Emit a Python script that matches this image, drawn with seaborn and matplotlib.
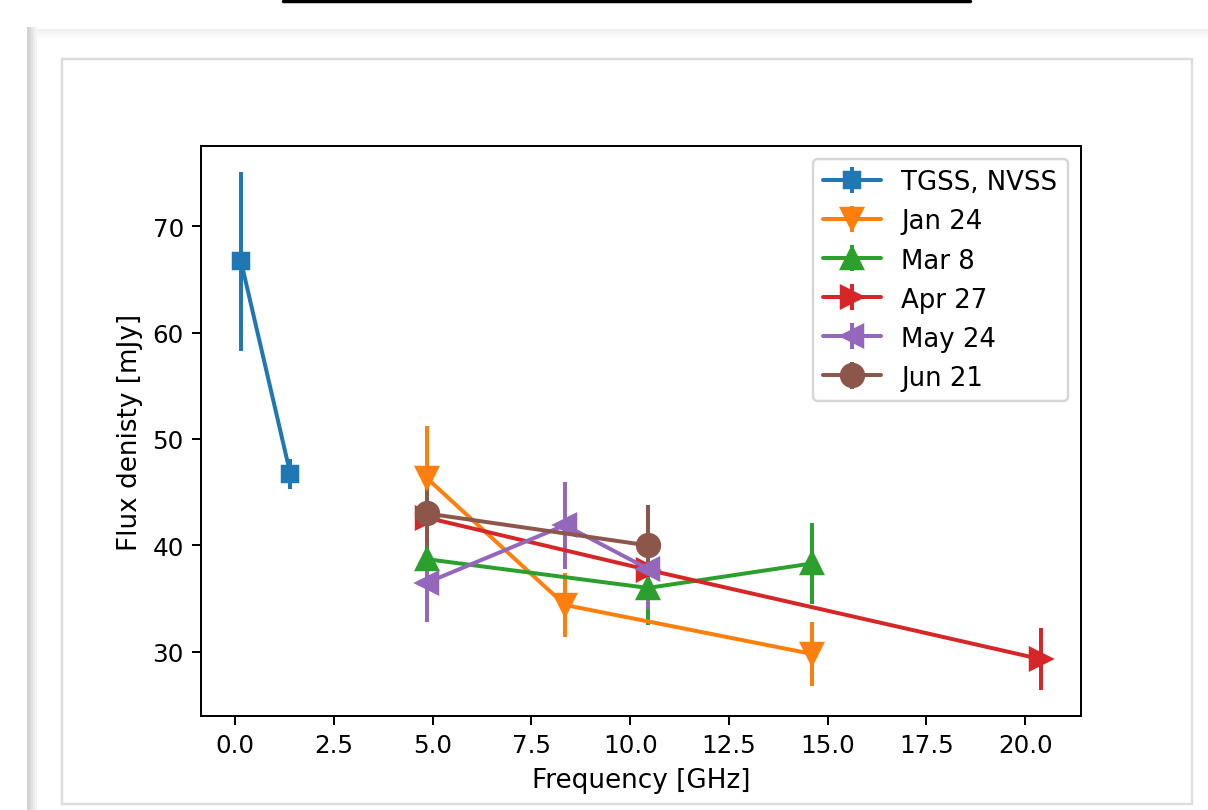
import numpy as np
import pandas as pd
import matplotlib
matplotlib.use("Agg")
import matplotlib.pyplot as plt
from matplotlib.container import ErrorbarContainer
from matplotlib.patches import Rectangle
from matplotlib.lines import Line2D
import seaborn as sns

# ---- data ----
series_names = ["TGSS, NVSS", "Jan 24", "Mar 8", "Apr 27", "May 24", "Jun 21"]
series_markers = ["s", "v", "^", ">", "<", "o"]

tgss_freq = [0.15, 1.4]
tgss_flux = [66.7, 46.7]
tgss_err = [8.4, 1.4]

jan_freq = [4.86, 8.35, 14.6]
jan_flux = [46.3, 34.4, 29.8]
jan_err = [4.9, 3.0, 3.0]

mar_freq = [4.86, 10.45, 14.6]
mar_flux = [38.7, 36.0, 38.3]
mar_err = [3.0, 3.5, 3.8]

apr_freq = [4.86, 10.45, 20.4]
apr_flux = [42.6, 37.7, 29.3]
apr_err = [3.0, 3.0, 2.9]

may_freq = [4.86, 8.35, 10.45]
may_flux = [36.5, 41.9, 37.8]
may_err = [3.7, 4.1, 3.8]

jun_freq = [4.86, 10.45]
jun_flux = [43.0, 40.0]
jun_err = [4.0, 3.8]

x_ticks = [0.0, 2.5, 5.0, 7.5, 10.0, 12.5, 15.0, 17.5, 20.0]
y_ticks = [30, 40, 50, 60, 70]

all_freq = [tgss_freq, jan_freq, mar_freq, apr_freq, may_freq, jun_freq]
all_flux = [tgss_flux, jan_flux, mar_flux, apr_flux, may_flux, jun_flux]
all_err = [tgss_err, jan_err, mar_err, apr_err, may_err, jun_err]

# ---- style ----
sns.set_style("ticks", rc={
    "axes.edgecolor": "black", "xtick.color": "black", "ytick.color": "black",
    "text.color": "black", "axes.labelcolor": "black",
    "xtick.direction": "out", "ytick.direction": "out",
    "axes.linewidth": 0.8,
})
plt.rcParams.update({
    "font.family": ["DejaVu Sans"],
    "font.size": 10, "axes.labelsize": 10.7,
    "xtick.labelsize": 10, "ytick.labelsize": 10, "legend.fontsize": 10.6,
    "xtick.major.size": 3.5, "ytick.major.size": 3.5,
    "xtick.major.width": 0.8, "ytick.major.width": 0.8,
})
palette = sns.color_palette("tab10", 6)

DPI = 177
fig = plt.figure(figsize=(1208 / DPI, 811 / DPI), dpi=DPI)
fig.patch.set_facecolor("white")

# page decorations (screenshot frame)
for i, c in enumerate(["#d0d0d0", "#d8d8d8", "#e2e2e2", "#ececec", "#f4f4f4"]):
    fig.add_artist(Rectangle(((27 + 2 * i) / 1208, 0), 2 / 1208, 1 - 28 / 811,
                             transform=fig.transFigure, facecolor=c,
                             edgecolor="none", zorder=0))
for i, c in enumerate(["#f0f0f0", "#f4f4f4", "#f7f7f7", "#fafafa", "#fcfcfc"]):
    fig.add_artist(Rectangle((37 / 1208, 1 - (30 + 2 * (i + 1)) / 811), 1171 / 1208, 2 / 811,
                             transform=fig.transFigure, facecolor=c,
                             edgecolor="none", zorder=0))
fig.add_artist(Rectangle((62 / 1208, 1 - 805 / 811), 1130 / 1208, 745 / 811,
                         transform=fig.transFigure, facecolor="white",
                         edgecolor="#dddddd", linewidth=1.0, zorder=0))
fig.add_artist(Line2D([283 / 1208, 970 / 1208], [1 - 1.5 / 811, 1 - 1.5 / 811],
                      transform=fig.transFigure, color="black", linewidth=1.4))

ax = fig.add_axes([201 / 1208, 1 - 717 / 811, 880 / 1208, 570 / 811])
ax.set_facecolor("white")

LW = 1.62
handles = []
for name, mk, col, fx, fy, fe in zip(series_names, series_markers, palette,
                                      all_freq, all_flux, all_err):
    df = pd.DataFrame({"freq": fx, "flux": fy})
    sns.lineplot(data=df, x="freq", y="flux", ax=ax, color=col, marker=mk,
                 markersize=6.5 if mk == "s" else 9.3, markeredgecolor=col,
                 markeredgewidth=1.0, linewidth=LW, legend=False,
                 zorder=2.1, sort=False)
    line = ax.lines[-1]
    eb = ax.errorbar(fx, fy, yerr=fe, fmt="none", ecolor=col,
                     elinewidth=LW, capsize=0, zorder=2)
    cont = ErrorbarContainer((line, eb.lines[1], eb.lines[2]),
                             has_xerr=False, has_yerr=True, label=name)
    handles.append(cont)

ax.set_xticks(x_ticks)
ax.set_xticklabels([f"{t:.1f}" for t in x_ticks])
ax.set_yticks(y_ticks)
ax.set_xlabel("Frequency [GHz]")
ax.set_ylabel("Flux denisty [mJy]")
for s in ax.spines.values():
    s.set_visible(True)
    s.set_color("black")
ax.legend(handles=handles, labels=series_names, loc="upper right",
          frameon=True, framealpha=0.8, edgecolor="0.8", fancybox=True,
          handlelength=2.2)

fig.savefig("out.png", dpi=DPI)
